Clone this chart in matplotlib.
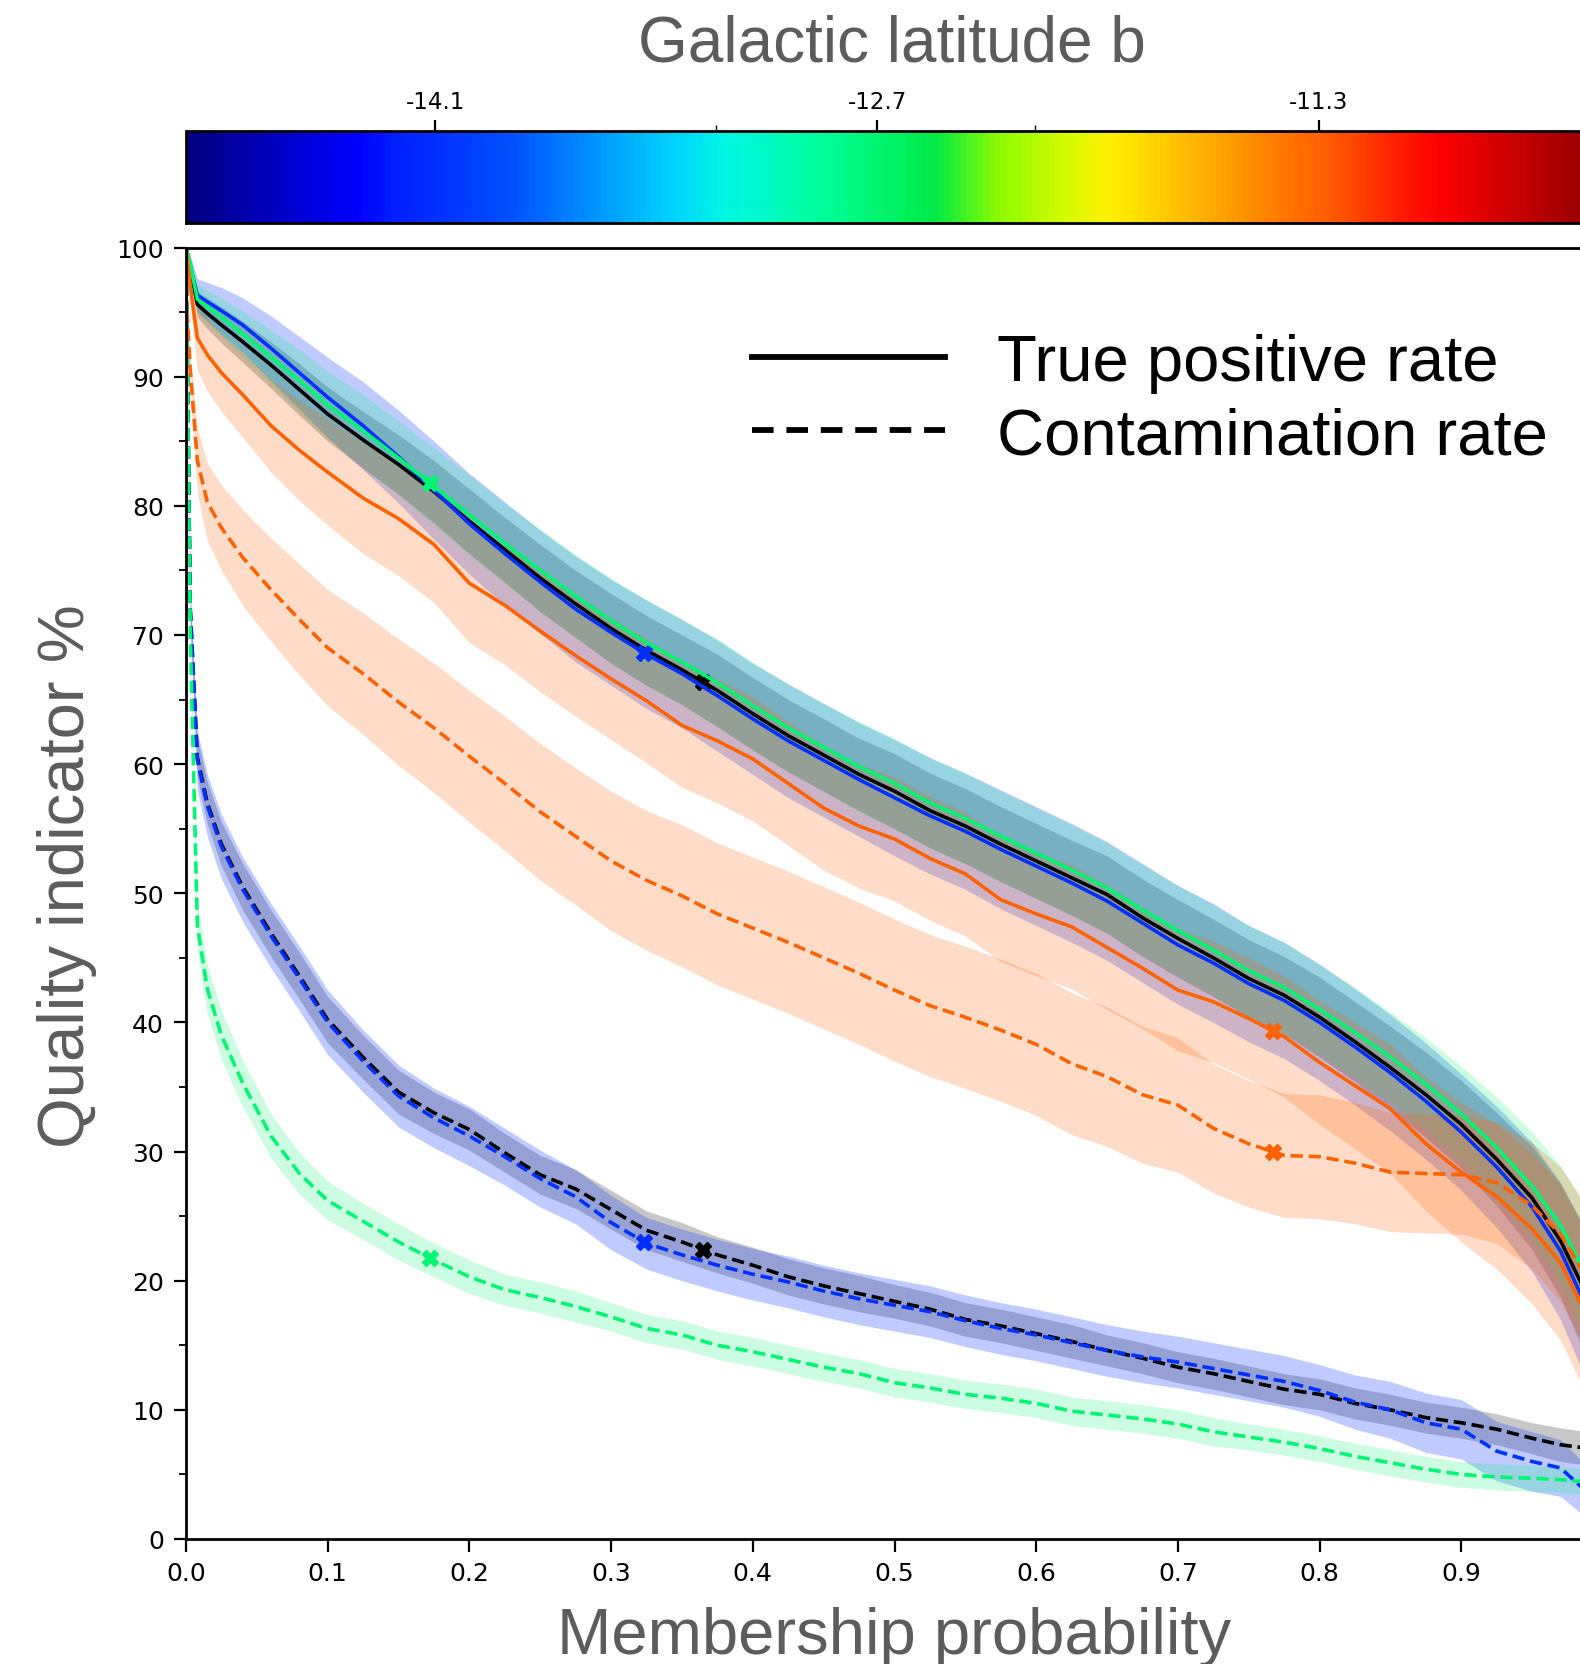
import numpy as np
import matplotlib
matplotlib.use("Agg")
import matplotlib.pyplot as plt
from matplotlib.colors import LinearSegmentedColormap, Normalize
from matplotlib.cm import ScalarMappable
from matplotlib.lines import Line2D

# ---------------------------------------------------------------- data
prob = [0.0, 0.003, 0.008, 0.015, 0.025, 0.04, 0.06, 0.08, 0.1, 0.125,
        0.15, 0.175, 0.2, 0.225, 0.25, 0.275, 0.3, 0.325, 0.35, 0.375,
        0.4, 0.425, 0.45, 0.475, 0.5, 0.525, 0.55, 0.575, 0.6, 0.625,
        0.65, 0.675, 0.7, 0.725, 0.75, 0.775, 0.8, 0.825, 0.85, 0.875,
        0.9, 0.925, 0.95, 0.97, 0.99]

# true positive rate (%)
tpr_all = [100, 98.4, 95.6, 94.9, 94.0, 92.7, 90.9, 89.0, 87.1, 85.1,
           83.2, 81.1, 78.8, 76.6, 74.4, 72.4, 70.5, 68.8, 67.3, 65.7,
           63.9, 62.2, 60.7, 59.2, 57.9, 56.4, 55.2, 53.8, 52.5, 51.2,
           49.9, 48.1, 46.5, 45.0, 43.4, 42.1, 40.4, 38.5, 36.5, 34.4,
           32.1, 29.4, 26.4, 23.1, 18.6]
tpr_b1 = [100, 98.6, 96.3, 95.8, 95.1, 94.0, 92.2, 90.3, 88.4, 86.2,
          83.8, 81.2, 78.6, 76.3, 74.1, 72.0, 70.2, 68.5, 67.0, 65.3,
          63.5, 61.8, 60.3, 58.8, 57.4, 56.0, 54.8, 53.4, 52.1, 50.8,
          49.4, 47.7, 46.0, 44.6, 43.0, 41.7, 40.0, 38.1, 36.1, 33.9,
          31.5, 28.8, 25.7, 22.3, 17.6]
tpr_b2 = [100, 98.7, 96.0, 95.4, 94.6, 93.3, 91.5, 89.7, 87.8, 85.8,
          83.7, 81.5, 79.3, 77.1, 75.0, 73.0, 71.1, 69.4, 67.9, 66.3,
          64.5, 62.8, 61.3, 59.8, 58.5, 57.0, 55.8, 54.4, 53.1, 51.8,
          50.4, 48.7, 47.1, 45.6, 44.0, 42.7, 41.0, 39.2, 37.3, 35.2,
          32.9, 30.3, 27.3, 24.3, 20.0]
tpr_b3 = [100, 97.0, 93.0, 91.7, 90.3, 88.6, 86.2, 84.3, 82.6, 80.6,
          79.0, 77.0, 74.0, 72.3, 70.3, 68.4, 66.6, 64.9, 63.0, 61.8,
          60.4, 58.5, 56.6, 55.2, 54.2, 52.7, 51.5, 49.5, 48.4, 47.4,
          45.8, 44.2, 42.5, 41.6, 40.3, 38.9, 36.9, 35.1, 33.3, 30.6,
          28.4, 26.5, 24.0, 21.4, 17.0]

# contamination rate (%)
cont_all = [100, 72.0, 60.5, 57.0, 53.8, 50.5, 46.9, 43.6, 40.2, 37.3,
            34.6, 33.0, 31.7, 29.9, 28.2, 27.1, 25.5, 23.9, 23.0, 22.0,
            21.2, 20.3, 19.6, 19.0, 18.4, 17.8, 17.0, 16.5, 15.9, 15.3,
            14.6, 14.0, 13.3, 12.8, 12.2, 11.6, 11.2, 10.5, 10.0, 9.4,
            9.0, 8.5, 7.8, 7.3, 7.0]
cont_b1 = [100, 72.0, 60.3, 56.8, 53.6, 50.3, 46.7, 43.4, 40.0, 37.0,
           34.3, 32.6, 31.2, 29.6, 27.9, 26.5, 24.5, 22.9, 22.0, 21.2,
           20.5, 19.9, 19.2, 18.6, 18.1, 17.6, 16.9, 16.3, 15.8, 15.2,
           14.6, 14.1, 13.7, 13.2, 12.7, 12.2, 11.5, 10.6, 10.0, 9.0,
           8.5, 6.8, 6.0, 5.5, 3.5]
cont_b2 = [100, 70.0, 47.5, 42.6, 39.0, 35.3, 31.2, 28.3, 26.2, 24.6,
           23.0, 21.6, 20.3, 19.3, 18.7, 18.0, 17.2, 16.3, 15.8, 15.0,
           14.5, 13.9, 13.3, 12.8, 12.1, 11.7, 11.2, 10.9, 10.5, 9.9,
           9.6, 9.3, 8.9, 8.3, 7.9, 7.5, 7.0, 6.4, 5.9, 5.4,
           5.0, 4.8, 4.7, 4.6, 4.4]
cont_b3 = [96.5, 90.5, 83.5, 80.3, 78.3, 76.0, 73.5, 71.2, 69.0, 67.0,
           64.8, 62.8, 60.6, 58.5, 56.3, 54.4, 52.5, 51.0, 49.8, 48.4,
           47.3, 46.2, 45.0, 43.8, 42.5, 41.3, 40.4, 39.4, 38.3, 36.8,
           35.8, 34.4, 33.6, 31.8, 30.6, 29.7, 29.6, 29.1, 28.4, 28.3,
           28.2, 27.6, 25.8, 23.6, 20.0]

# 1-sigma spread of each curve (half width of the shaded band, %)
sd_tpr_all = [0, 0.6, 1.0, 1.2, 1.4, 1.6, 1.8, 2.0, 2.1, 2.2,
              2.3, 2.4, 2.5, 2.5, 2.6, 2.6, 2.7, 2.7, 2.7, 2.8,
              2.8, 2.8, 2.8, 2.8, 2.9, 2.9, 2.9, 2.9, 2.9, 2.9,
              3.0, 3.0, 3.0, 3.0, 3.0, 3.0, 3.1, 3.1, 3.2, 3.3,
              3.4, 3.6, 4.0, 4.4, 5.0]
sd_tpr_b1 = [0, 0.8, 1.3, 1.5, 1.8, 2.1, 2.5, 2.8, 3.1, 3.4,
             3.6, 3.8, 3.9, 4.0, 4.0, 4.1, 4.1, 4.2, 4.2, 4.3,
             4.3, 4.4, 4.4, 4.4, 4.5, 4.5, 4.5, 4.6, 4.6, 4.6,
             4.6, 4.6, 4.6, 4.6, 4.5, 4.5, 4.5, 4.5, 4.5, 4.5,
             4.5, 4.7, 5.0, 5.3, 5.8]
sd_tpr_b2 = [0, 0.7, 1.1, 1.3, 1.5, 1.8, 2.1, 2.4, 2.6, 2.8,
             2.9, 3.0, 3.1, 3.1, 3.2, 3.2, 3.3, 3.3, 3.3, 3.4,
             3.4, 3.4, 3.4, 3.5, 3.5, 3.5, 3.5, 3.5, 3.5, 3.5,
             3.5, 3.5, 3.5, 3.5, 3.5, 3.5, 3.5, 3.5, 3.5, 3.6,
             3.7, 3.9, 4.2, 4.6, 5.2]
sd_tpr_b3 = [0, 1.5, 2.5, 2.8, 3.0, 3.3, 3.6, 3.9, 4.1, 4.3,
             4.4, 4.5, 4.6, 4.6, 4.7, 4.7, 4.7, 4.8, 4.8, 4.8,
             4.8, 4.8, 4.8, 4.8, 4.8, 4.8, 4.8, 4.8, 4.8, 4.8,
             4.8, 4.7, 4.7, 4.7, 4.7, 4.7, 4.8, 4.9, 5.0, 5.2,
             5.4, 5.6, 5.8, 6.0, 6.2]
sd_cont_all = [0, 1.0, 1.5, 1.6, 1.7, 1.8, 1.8, 1.8, 1.8, 1.7,
               1.7, 1.6, 1.6, 1.5, 1.5, 1.5, 1.5, 1.5, 1.5, 1.4,
               1.4, 1.4, 1.4, 1.4, 1.3, 1.3, 1.3, 1.3, 1.3, 1.3,
               1.2, 1.2, 1.2, 1.2, 1.2, 1.2, 1.2, 1.2, 1.2, 1.2,
               1.2, 1.2, 1.2, 1.3, 1.3]
sd_cont_b1 = [0, 1.5, 2.3, 2.4, 2.5, 2.5, 2.5, 2.5, 2.5, 2.4,
              2.4, 2.3, 2.3, 2.2, 2.2, 2.1, 2.1, 2.0, 2.0, 2.0,
              2.0, 2.0, 2.0, 2.0, 2.0, 2.0, 2.0, 2.0, 2.0, 2.0,
              2.0, 2.0, 2.0, 2.0, 2.0, 2.0, 2.0, 2.1, 2.2, 2.3,
              2.3, 2.3, 2.3, 2.2, 2.0]
sd_cont_b2 = [0, 1.0, 1.8, 1.9, 1.9, 1.8, 1.7, 1.6, 1.5, 1.4,
              1.4, 1.3, 1.3, 1.2, 1.2, 1.2, 1.1, 1.1, 1.1, 1.1,
              1.1, 1.1, 1.1, 1.1, 1.1, 1.1, 1.1, 1.1, 1.1, 1.1,
              1.1, 1.1, 1.1, 1.1, 1.0, 1.0, 1.0, 1.0, 1.0, 1.0,
              1.0, 1.0, 1.0, 1.0, 1.0]
sd_cont_b3 = [0, 1.5, 2.5, 3.0, 3.3, 3.7, 4.0, 4.3, 4.5, 4.7,
              4.9, 5.0, 5.1, 5.2, 5.3, 5.3, 5.4, 5.4, 5.5, 5.5,
              5.5, 5.5, 5.5, 5.5, 5.5, 5.5, 5.5, 5.5, 5.5, 5.5,
              5.4, 5.3, 5.2, 5.0, 4.9, 4.8, 4.8, 4.7, 4.6, 4.6,
              4.6, 4.7, 4.9, 5.2, 5.6]

# Galactic latitude of each sub-field and the probability cut marked on it
lat_fields = [-14.1, -12.7, -11.3]
cut_all = 0.365
cut_fields = [0.323, 0.172, 0.767]

cbar_ticks = [-14.1, -12.7, -11.3]
cbar_minor = [-13.21, -12.2]
b_min, b_max = -14.89, -10.40

# ---------------------------------------------------------------- style
cmap = LinearSegmentedColormap.from_list("lat", [
    (0.000, (0.00, 0.00, 0.50)),
    (0.118, (0.00, 0.00, 1.00)),
    (0.147, (0.00, 0.12, 1.00)),
    (0.227, (0.00, 0.31, 1.00)),
    (0.299, (0.00, 0.63, 1.00)),
    (0.342, (0.00, 0.82, 1.00)),
    (0.378, (0.00, 0.96, 0.90)),
    (0.443, (0.00, 1.00, 0.63)),
    (0.529, (0.00, 0.92, 0.27)),
    (0.574, (0.55, 0.98, 0.00)),
    (0.626, (0.86, 0.98, 0.00)),
    (0.653, (1.00, 0.94, 0.00)),
    (0.718, (1.00, 0.69, 0.00)),
    (0.764, (1.00, 0.51, 0.00)),
    (0.810, (1.00, 0.35, 0.00)),
    (0.856, (1.00, 0.12, 0.00)),
    (0.886, (1.00, 0.00, 0.00)),
    (1.000, (0.55, 0.00, 0.00)),
], N=256)
norm = Normalize(vmin=b_min, vmax=b_max)
field_colors = [cmap(norm(b)) for b in lat_fields]

label_grey = "#5c5c5c"
label_font = "Liberation Sans"

W, H = 1580, 1665
fig = plt.figure(figsize=(W / 100, H / 100), dpi=100)

ax_l, ax_r, ax_b, ax_t = 186, 1603, 1540, 248.5
ax = fig.add_axes([ax_l / W, (H - ax_b) / H, (ax_r - ax_l) / W, (ax_b - ax_t) / H])

x = np.asarray(prob)
tprs = [tpr_all, tpr_b1, tpr_b2, tpr_b3]
conts = [cont_all, cont_b1, cont_b2, cont_b3]
sd_tprs = [sd_tpr_all, sd_tpr_b1, sd_tpr_b2, sd_tpr_b3]
sd_conts = [sd_cont_all, sd_cont_b1, sd_cont_b2, sd_cont_b3]
colors = ["black"] + field_colors
band_alpha = [0.22, 0.25, 0.2, 0.22]
cuts = [cut_all] + cut_fields

# shaded spread first
for tp, ct, st, sc, c, a in zip(tprs, conts, sd_tprs, sd_conts, colors, band_alpha):
    tp, ct, st, sc = map(np.asarray, (tp, ct, st, sc))
    ax.fill_between(x, tp - st, tp + st, color=c, alpha=a, lw=0)
    ax.fill_between(x, ct - sc, ct + sc, color=c, alpha=a, lw=0)

# curves, each with its probability cut marked
for tp, ct, c, cut in zip(tprs, conts, colors, cuts):
    ax.plot(x, tp, color=c, lw=2.6, ls="-")
    ax.plot(x, ct, color=c, lw=2.6, ls=(0, (3.4, 1.6)))
    ax.plot([cut, cut], [np.interp(cut, x, tp), np.interp(cut, x, ct)],
            ls="none", marker="X", ms=12, color=c, mec=c)

ax.set_xlim(0, 1)
ax.set_ylim(0, 100)
ax.set_xticks(np.arange(0, 0.95, 0.1))
ax.set_xticklabels([f"{v:.1f}" for v in np.arange(0, 0.95, 0.1)])
ax.set_yticks(np.arange(0, 101, 10))
ax.set_yticks(np.arange(5, 100, 10), minor=True)
ax.tick_params(axis="both", which="major", labelsize=18, length=9, width=1.6,
               direction="out", color="black")
ax.tick_params(axis="y", which="major", pad=7)
ax.tick_params(axis="x", which="major", pad=7)
ax.tick_params(axis="y", which="minor", length=5, width=1.3)
for s in ax.spines.values():
    s.set_linewidth(2.0)

# legend for line styles
handles = [Line2D([], [], color="black", lw=4.2, ls="-"),
           Line2D([], [], color="black", lw=4.2, ls=(0, (3.7, 2.2)))]
ax.legend(handles, ["True positive rate", "Contamination rate"],
          loc="upper left", bbox_to_anchor=(752 / W, (H - 334) / H),
          bbox_transform=fig.transFigure, frameon=False,
          prop={"family": label_font, "size": 47},
          handlelength=2.96, handletextpad=0.8, labelspacing=0.2,
          borderpad=0, borderaxespad=0)

# colour bar for Galactic latitude
cb_t, cb_b = 131.7, 224
cax = fig.add_axes([ax_l / W, (H - cb_b) / H, (ax_r - ax_l) / W, (cb_b - cb_t) / H])
cb = fig.colorbar(ScalarMappable(norm=norm, cmap=cmap), cax=cax,
                  orientation="horizontal")
cb.set_ticks(cbar_ticks)
cb.set_ticklabels([f"{t:.1f}" for t in cbar_ticks])
cax.set_xticks(cbar_minor, minor=True)
cax.xaxis.set_ticks_position("top")
cax.xaxis.set_label_position("top")
cax.tick_params(axis="x", which="major", labelsize=16.5, length=8, width=1.6, pad=5)
cax.tick_params(axis="x", which="minor", length=4, width=1.0)
cb.outline.set_linewidth(2.0)

# axis titles
fig.text(892 / W, (H - 62) / H, "Galactic latitude b", ha="center", va="baseline",
         fontsize=46, color=label_grey, family=label_font)
fig.text(894 / W, (H - 1654) / H, "Membership probability", ha="center",
         va="baseline", fontsize=47, color=label_grey, family=label_font)
fig.text(84 / W, (H - 876) / H, "Quality indicator %", ha="center", va="baseline",
         rotation=90, rotation_mode="anchor", fontsize=47, color=label_grey,
         family=label_font)

fig.savefig("out.png", dpi=100)
